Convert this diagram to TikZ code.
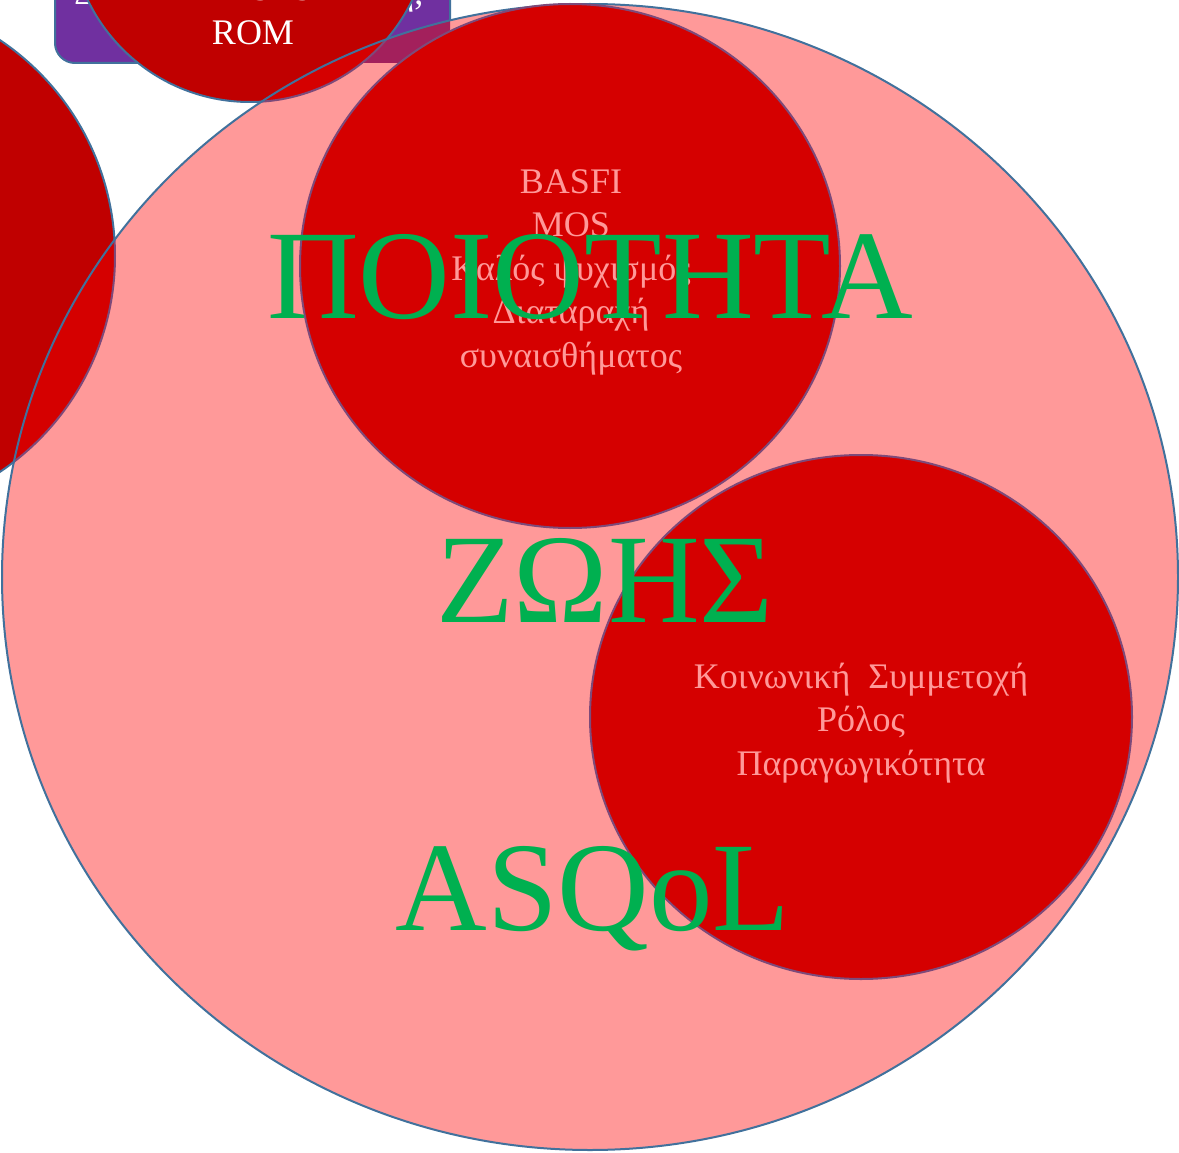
\documentclass[tikz,border=0pt]{standalone}
\usepackage{fontspec}
\setmainfont{Liberation Serif}
\usepackage{tikz}
\usetikzlibrary{positioning, calc}

\definecolor{pinkfill}{HTML}{FF9999}
\definecolor{darkred}{HTML}{C00000}
\definecolor{brightred}{HTML}{D50000}
\definecolor{boxpurple}{HTML}{7030A0}
\definecolor{mixpurple}{HTML}{A3205C}
\definecolor{rimblue}{HTML}{41719C}
\definecolor{rimmauve}{HTML}{7D4A7A}
\definecolor{titlegreen}{HTML}{00B050}

\begin{document}
\begin{tikzpicture}[x=1pt, y=-1pt,
    rim/.style={draw=rimblue, line width=2pt},
    innerrim/.style={draw=rimmauve, line width=2pt},
    smalltext/.style={font=\fontsize{36}{43.5}\selectfont, align=center, text=pinkfill},
    bigtext/.style={font=\fontsize{127}{127}\selectfont, text=titlegreen, anchor=base}]
    \useasboundingbox (0,0) rectangle (1179,1153);
    \clip (0,0) rectangle (1179,1153);

    % purple box and the two dark circles on the left
    \fill[boxpurple, rounded corners=20pt] (55,-80) rectangle (450,63);
    \draw[rim, rounded corners=20pt] (55,-80) rectangle (450,63);
    \node[anchor=base, text=white, font=\fontsize{36}{43.5}\selectfont] (boxleft) at (86,5) {Δ};
    \node[anchor=base west, text=white, font=\fontsize{36}{43.5}\selectfont] (boxright) at (392,5) {ή,};
    \fill[darkred] (250,-78) circle (180);
    \draw[rim] (250,-78) circle (180);
    \fill[darkred] (-145,256) circle (260);
    \draw[rim] (-145,256) circle (260);

    % big pink circle
    \fill[pinkfill] (590,577) ellipse [x radius=588, y radius=573];
    \begin{scope}
        \clip (590,577) ellipse [x radius=588, y radius=573];
        \fill[mixpurple, rounded corners=20pt] (55,-80) rectangle (450,63);
        \fill[brightred] (250,-78) circle (180);
        \fill[brightred] (-145,256) circle (260);
        \draw[innerrim] (250,-78) circle (180);
        \draw[innerrim] (-145,256) circle (260);
    \end{scope}
    \draw[rim] (590,577) ellipse [x radius=588, y radius=573];

    % the two inner circles
    \fill[brightred] (570,266) ellipse [x radius=270, y radius=262];
    \draw[innerrim] (570,266) ellipse [x radius=270, y radius=262];
    \fill[brightred] (861,717) ellipse [x radius=271, y radius=262];
    \draw[innerrim] (861,717) ellipse [x radius=271, y radius=262];

    \node[smalltext, text=white] (mases) at (253,11) {MASES\\ROM};
    \node[smalltext] (upperlist) at (571,272) {BASFI\\MOS\\Καλός ψυχισμός\\Διαταραχή\\συναισθήματος};
    \node[smalltext] (lowerlist) at (861,723) {Κοινωνική~~Συμμετοχή\\Ρόλος\\Παραγωγικότητα};

    \node[bigtext] (titleone) at (590,318) {ΠΟΙΟΤΗΤΑ};
    \node[bigtext] (titletwo) at (605,622) {ΖΩΗΣ};
    \node[bigtext] (titlethree) at (593,930) {ASQoL};
\end{tikzpicture}
\end{document}
